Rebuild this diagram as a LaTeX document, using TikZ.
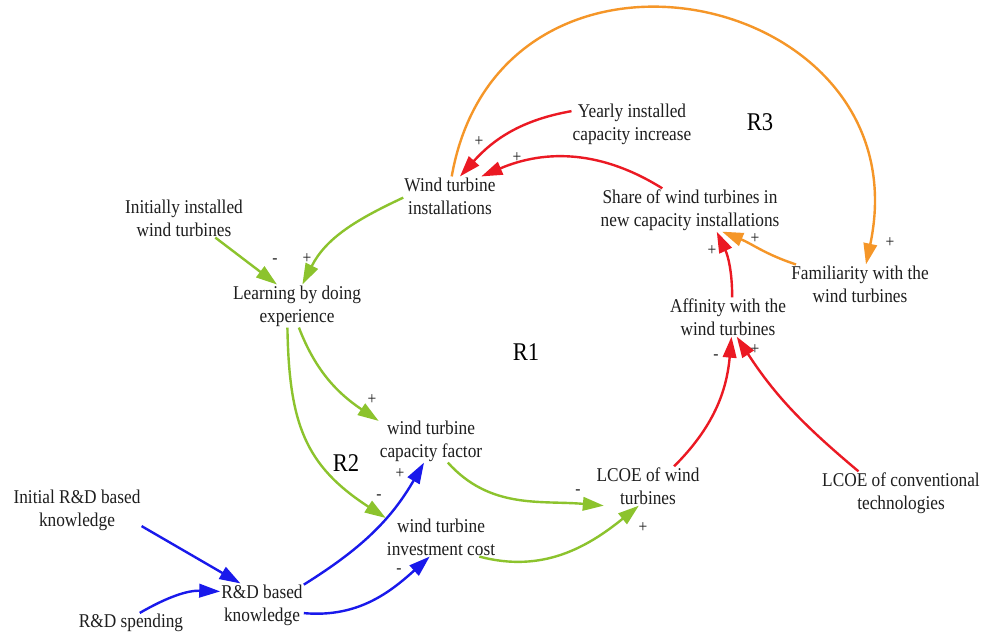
\documentclass[tikz,border=0pt]{standalone}
\usepackage{fontspec}
\setmainfont{Liberation Serif}[FakeStretch=0.887]
\usetikzlibrary{arrows.meta}
\definecolor{cgreen}{RGB}{140,195,45}
\definecolor{cred}{RGB}{235,25,35}
\definecolor{cblue}{RGB}{25,25,235}
\definecolor{corange}{RGB}{245,150,40}
\definecolor{ctext}{RGB}{30,30,30}
\begin{document}
\begin{tikzpicture}[x=1pt,y=1pt,
  var/.style={align=center, inner sep=1pt, text=ctext, font=\fontsize{19.5}{23}\selectfont},
  looplab/.style={inner sep=0pt, text=black, font=\fontsize{25.5}{28}\selectfont},
  sgn/.style={inner sep=0pt, text=ctext, font=\fontsize{17.5}{19}\selectfont},
  lnk/.style={line width=2.4pt, -{Triangle[length=21pt,width=13.5pt]}},
  gl/.style={lnk, draw=cgreen},
  rl/.style={lnk, draw=cred},
  bl/.style={lnk, draw=cblue},
  ol/.style={lnk, draw=corange}
]
\useasboundingbox (0,0) rectangle (987,-637);
\fill[white] (0,0) rectangle (987,-637);

% variables
\node[var] (yic)  at (632,-124) {Yearly installed\\capacity increase};
\node[var] (wti)  at (450,-196) {Wind turbine\\installations};
\node[var] (share) at (690,-210) {Share of wind turbines in\\new capacity installations};
\node[var] (iiw)  at (184,-218) {Initially installed\\wind turbines};
\node[var] (lbd)  at (297,-306) {Learning by doing\\experience};
\node[var] (fam)  at (860,-284) {Familiarity with the\\wind turbines};
\node[var] (aff)  at (728,-317) {Affinity with the\\wind turbines};
\node[var] (wcf)  at (431,-441) {wind turbine\\capacity factor};
\node[var] (lcw)  at (648,-486) {LCOE of wind\\turbines};
\node[var] (lcc)  at (901,-493) {LCOE of conventional\\technologies};
\node[var] (iwc)  at (441,-537) {wind turbine\\investment cost};
\node[var] (ird)  at (77,-510)  {Initial R\&D based\\knowledge};
\node[var] (rdk)  at (262,-605) {R\&D based\\knowledge};
\node[var] (rds)  at (131,-623) {R\&D spending};

% loop labels
\node[looplab] (r1) at (526,-352) {R1};
\node[looplab] (r2) at (346,-463) {R2};
\node[looplab] (r3) at (760,-122) {R3};

% red links
\draw[rl] (yic.168) to[out=190,in=48] (wti.63);
\draw[rl] (share.142) to[out=148,in=23] (wti.32);
\draw[rl] (aff.78) to[out=90,in=-65] (share.-39);
\draw[rl] (lcw.37) to[out=45,in=-95] (aff.-80);
\draw[rl] (lcc.153) to[out=140,in=-57] (aff.-66);

% orange links
\draw[ol] (wti.85) to[out=80,in=78,looseness=1.7] (fam.73);
\draw[ol] (fam.163) to[out=162,in=-22] (share.-34);

% green links
\draw[gl] (wti.182) to[out=205,in=63] (lbd.76);
\draw[gl] (iiw.-32) -- (lbd.133);
\draw[gl] (lbd.-85) to[out=-69,in=146] (wcf.159);
\draw[gl] (lbd.-114) to[out=-89,in=147,looseness=1.15] (iwc.161);
\draw[gl] (wcf.-52) to[out=-48,in=175] (lcw.204);
\draw[gl] (iwc.-27) to[out=-15,in=-141] (lcw.-115);

% blue links
\draw[bl] (ird.-14) -- (rdk.135);
\draw[bl] (rds.49) to[out=30,in=178] (rdk.162);
\draw[bl] (rdk.26) to[out=32,in=-120] (wcf.-108);
\draw[bl] (rdk.-11) to[out=-5,in=-138] (iwc.-120);

% polarity signs
\node[sgn] (s1)  at (479,-142) {+};
\node[sgn] (s2)  at (517,-158) {+};
\node[sgn] (s3)  at (890,-243) {+};
\node[sgn] (s4)  at (755,-239) {+};
\node[sgn] (s5)  at (712,-251) {+};
\node[sgn] (s6)  at (716,-357) {-};
\node[sgn] (s7)  at (755,-350) {+};
\node[sgn] (s8)  at (307,-259) {+};
\node[sgn] (s9)  at (275,-261) {-};
\node[sgn] (s10) at (372,-400) {+};
\node[sgn] (s11) at (379,-497) {-};
\node[sgn] (s12) at (578,-492) {-};
\node[sgn] (s13) at (643,-528) {+};
\node[sgn] (s14) at (400,-474) {+};
\node[sgn] (s15) at (399,-571) {-};
\end{tikzpicture}
\end{document}
